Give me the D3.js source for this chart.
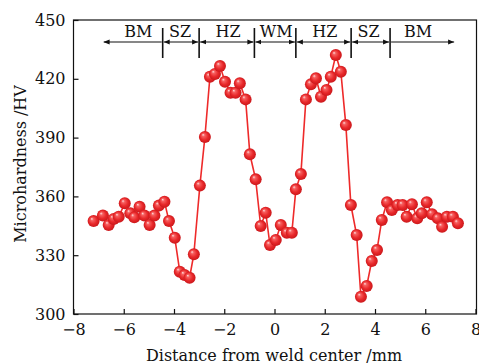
<!DOCTYPE html>
<html>
<head>
<meta charset="utf-8">
<script src="https://cdn.jsdelivr.net/npm/d3@7"></script>
<style>
  html, body { margin: 0; padding: 0; background: #fff; }
  svg { display: block; }
  text { font-family: "DejaVu Serif", serif; fill: #111; }
</style>
</head>
<body>
<div id="chart"></div>
<script>
// distance from weld center (mm) and microhardness (HV)
const distance = [
  -7.2, -6.83, -6.6, -6.4, -6.2, -5.96, -5.74, -5.58, -5.37, -5.18,
  -4.97, -4.78, -4.6, -4.38, -4.2, -3.97, -3.77, -3.58, -3.38, -3.21,
  -2.97, -2.77, -2.57, -2.37, -2.17, -1.97, -1.75, -1.55, -1.38, -1.15,
  -0.98, -0.75, -0.55, -0.35, -0.18, 0.05, 0.25, 0.49, 0.69, 0.85,
  1.05, 1.25, 1.45, 1.65, 1.85, 2.07, 2.24, 2.44, 2.64, 2.84,
  3.04, 3.27, 3.44, 3.67, 3.87, 4.08, 4.27, 4.48, 4.67, 4.9,
  5.1, 5.26, 5.47, 5.68, 5.86, 6.06, 6.27, 6.5, 6.67, 6.86,
  7.1, 7.3
];
const hardness = [
  347.4, 350.2, 345.4, 348.5, 349.6, 356.5, 351.4, 349.3, 354.7, 350.2,
  345.4, 350.2, 355.3, 357.3, 347.4, 338.9, 321.6, 319.9, 318.5, 330.5,
  365.5, 390.3, 421.1, 422.5, 426.5, 418.5, 412.9, 412.9, 417.7, 409.5,
  381.5, 368.7, 344.9, 351.7, 335.2, 337.8, 345.4, 341.5, 341.5, 363.6,
  371.4, 409.5, 417.2, 420.3, 410.9, 414.3, 421.1, 432.1, 423.6, 396.4,
  355.6, 340.3, 308.8, 314.3, 327, 332.7, 348, 357, 353, 355.6,
  355.6, 349.6, 356, 348.8, 351.4, 357, 350.9, 348.8, 344.5, 349.6,
  349.6, 346.3
];

const xTicks = [-8, -6, -4, -2, 0, 2, 4, 6, 8];
const yTicks = [300, 330, 360, 390, 420, 450];

// zone annotation along the top
const zoneBounds = [-6.8, -4.45, -3.0, -0.8, 0.85, 3.05, 4.6, 7.15];
const zoneNames = ["BM", "SZ", "HZ", "WM", "HZ", "SZ", "BM"];
const zoneLabelX = [-5.42, -3.76, -1.85, 0.07, 2.0, 3.74, 5.71];

const width = 479, height = 364;
const margin = { top: 20, right: 3, bottom: 50, left: 73.5 };

const svg = d3.select("#chart").append("svg")
  .attr("width", width)
  .attr("height", height);

const defs = svg.append("defs");

const grad = defs.append("radialGradient")
  .attr("id", "ball")
  .attr("cx", "50%").attr("cy", "50%").attr("r", "55%")
  .attr("fx", "34%").attr("fy", "30%");
grad.append("stop").attr("offset", "0%").attr("stop-color", "#ffe2e2");
grad.append("stop").attr("offset", "22%").attr("stop-color", "#f66060");
grad.append("stop").attr("offset", "60%").attr("stop-color", "#e8282a");
grad.append("stop").attr("offset", "100%").attr("stop-color", "#c41418");

defs.append("marker")
  .attr("id", "arrow")
  .attr("viewBox", "0 0 10 10")
  .attr("refX", 10).attr("refY", 5)
  .attr("markerWidth", 6).attr("markerHeight", 6)
  .attr("markerUnits", "userSpaceOnUse")
  .attr("orient", "auto-start-reverse")
  .append("path")
  .attr("d", "M0,1 L10,5 L0,9 Z")
  .attr("fill", "#111");

const x = d3.scaleLinear()
  .domain([-8, 8])
  .range([margin.left, 475.5]);

const y = d3.scaleLinear()
  .domain([300, 450])
  .range([314, margin.top]);

// frame
svg.append("rect")
  .attr("x", x(-8)).attr("y", y(450))
  .attr("width", 476.5 - x(-8)).attr("height", y(300) - y(450))
  .attr("fill", "none")
  .attr("stroke", "#111")
  .attr("stroke-width", 1.2);

// axes with inward ticks
const xAxis = svg.append("g")
  .attr("transform", `translate(0,${y(300)})`)
  .call(d3.axisBottom(x).tickValues(xTicks).tickSizeInner(-5).tickSizeOuter(0).tickPadding(10));
xAxis.select(".domain").remove();
xAxis.selectAll("line").attr("stroke", "#111").attr("stroke-width", 1.2);
xAxis.selectAll("text").style("font-size", "16px").style("font-family", "DejaVu Serif").attr("fill", "#111");

const yAxis = svg.append("g")
  .attr("transform", `translate(${x(-8)},0)`)
  .call(d3.axisLeft(y).tickValues(yTicks).tickSizeInner(-5).tickSizeOuter(0).tickPadding(8));
yAxis.select(".domain").remove();
yAxis.selectAll("line").attr("stroke", "#111").attr("stroke-width", 1.2);
yAxis.selectAll("text").style("font-size", "16px").style("font-family", "DejaVu Serif").attr("fill", "#111");

// axis titles
svg.append("text")
  .attr("x", 274).attr("y", 361)
  .attr("text-anchor", "middle")
  .style("font-size", "16px")
  .text("Distance from weld center /mm");

svg.append("text")
  .attr("transform", `translate(26,164) rotate(-90)`)
  .attr("text-anchor", "middle")
  .style("font-size", "16px")
  .text("Microhardness /HV");

// zone annotation
const zoneY = 42;
const zones = zoneNames.map((name, i) => ({
  name, x0: zoneBounds[i], x1: zoneBounds[i + 1], lx: zoneLabelX[i], i
}));

const ann = svg.append("g");

ann.selectAll(".zone-line")
  .data(zones)
  .enter()
  .append("line")
  .attr("class", "zone-line")
  .attr("x1", d => x(d.x0) + (d.i === 0 ? 0 : 1))
  .attr("x2", d => x(d.x1) - (d.i === zones.length - 1 ? 0 : 1))
  .attr("y1", zoneY).attr("y2", zoneY)
  .attr("stroke", "#111")
  .attr("stroke-width", 1.2)
  .attr("marker-start", d => (d.i === zones.length - 1 ? null : "url(#arrow)"))
  .attr("marker-end", d => (d.i === 0 ? null : "url(#arrow)"));

ann.selectAll(".sep")
  .data(zoneBounds.slice(1, -1))
  .enter()
  .append("line")
  .attr("class", "sep")
  .attr("x1", d => x(d)).attr("x2", d => x(d))
  .attr("y1", 28).attr("y2", 58)
  .attr("stroke", "#111")
  .attr("stroke-width", 1.6);

ann.selectAll(".zone-label")
  .data(zones)
  .enter()
  .append("text")
  .attr("class", "zone-label")
  .attr("x", d => x(d.lx))
  .attr("y", 37)
  .attr("text-anchor", "middle")
  .style("font-size", "16px")
  .text(d => d.name);

// data line and markers
const points = distance.map((d, i) => [d, hardness[i]]);

svg.append("path")
  .datum(points)
  .attr("fill", "none")
  .attr("stroke", "#ee2a2a")
  .attr("stroke-width", 1.6)
  .attr("d", d3.line().x(d => x(d[0])).y(d => y(d[1])));

svg.append("g")
  .selectAll("circle")
  .data(points)
  .enter()
  .append("circle")
  .attr("cx", d => x(d[0]))
  .attr("cy", d => y(d[1]))
  .attr("r", 6)
  .attr("fill", "url(#ball)");
</script>
</body>
</html>
